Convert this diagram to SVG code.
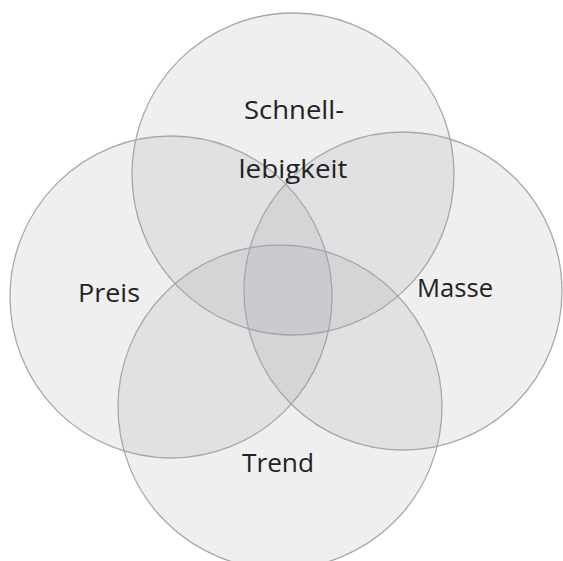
<svg xmlns="http://www.w3.org/2000/svg" width="563" height="561" viewBox="0 0 563 561">
<style>
.c{fill:#9a9aa2;fill-opacity:0.16;stroke:#a8a8ac;stroke-width:1.3}
.t{font-family:"Open Sans","Liberation Sans",sans-serif;font-size:26px;fill:#222;text-anchor:middle}
</style>
<rect width="563" height="561" fill="#fff"/>
<g id="schnelllebigkeit"><circle class="c" cx="293" cy="174" r="161"/></g>
<g id="preis"><circle class="c" cx="171" cy="297" r="161"/></g>
<g id="masse"><circle class="c" cx="403" cy="291" r="159"/></g>
<g id="trend"><circle class="c" cx="280" cy="407" r="162"/></g>
<g id="labels">
<text class="t" x="294" y="119" textLength="100" lengthAdjust="spacingAndGlyphs">Schnell-</text>
<text class="t" x="293" y="178" textLength="109" lengthAdjust="spacingAndGlyphs">lebigkeit</text>
<text class="t" x="109" y="302" textLength="62" lengthAdjust="spacingAndGlyphs">Preis</text>
<text class="t" x="455" y="297" textLength="76" lengthAdjust="spacingAndGlyphs">Masse</text>
<text class="t" x="278" y="472" textLength="72" lengthAdjust="spacingAndGlyphs">Trend</text>
</g>
</svg>
